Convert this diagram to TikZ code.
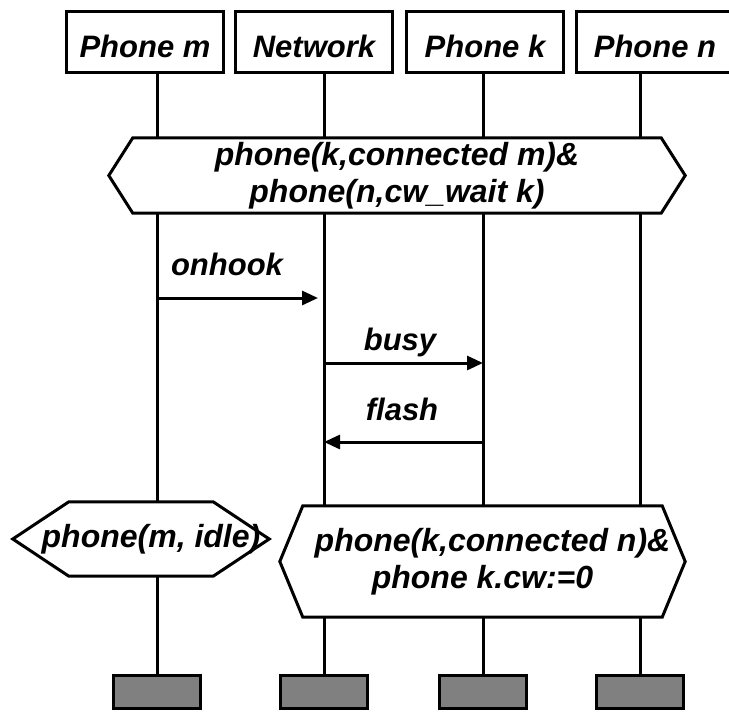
\documentclass[tikz,border=0pt]{standalone}
\usepackage{fontspec}
\setmainfont{Liberation Sans}
\usepackage{tikz}
\usetikzlibrary{arrows.meta}
\definecolor{EndColor}{RGB}{128,128,128}
\newcommand{\mscfont}{\fontsize{31}{37}\selectfont\bfseries\itshape}
\newcommand{\condfont}{\fontsize{32}{37}\selectfont\bfseries\itshape}
% hexagon round a condition node
\newcommand{\hexframe}[2]{%
  \draw[line width=3pt] (#1.west) -- ([xshift=#2]#1.north west) -- ([xshift=-#2]#1.north east)
    -- (#1.east) -- ([xshift=-#2]#1.south east) -- ([xshift=#2]#1.south west) -- cycle;}

\begin{document}
\begin{tikzpicture}[x=1pt,y=-1pt,font=\mscfont,every text node part/.style={align=center},
  instance/.style={draw, line width=3pt, minimum width=157pt, minimum height=61pt, inner sep=0pt,
    text height=30pt, text depth=0pt},
  condition/.style={inner sep=0pt, font=\condfont},
  endbox/.style={draw, line width=3.5pt, fill=EndColor, minimum width=87pt, minimum height=33pt},
  life/.style={line width=3pt},
  msg/.style={line width=3pt, -{Triangle[length=16pt, width=14pt]}}]

  \useasboundingbox (0,0) rectangle (729,713);
  \clip (0,0) rectangle (729,713);

  % instances
  \node[instance] (pm) at (145,42) {Phone m};
  \node[instance] (nw) at (314,42) {Network};
  \node[instance] (pk) at (485,42) {Phone k};
  \node[instance] (pn) at (655,42) {Phone n};

  \coordinate (lm) at (157,0);
  \coordinate (ln) at (324,0);
  \coordinate (lk) at (483,0);
  \coordinate (lp) at (640,0);

  % conditions
  \node[condition, minimum width=576pt, minimum height=75pt] (c1) at (397,175.5) {phone(k,connected m)\&\\phone(n,cw\_wait k)};
  \hexframe{c1}{24pt}
  \node[condition, minimum width=256pt, minimum height=74pt] (c2) at (141,539) {\hspace*{20pt}phone(m, idle)};
  \hexframe{c2}{56pt}
  \node[condition, minimum width=405pt, minimum height=111pt] (c3) at (482.5,561.5) {\hspace*{20pt}phone(k,connected n)\&\\phone k.cw:=0};
  \hexframe{c3}{23pt}

  % end of instances
  \node[endbox] (em) at (157,692) {};
  \node[endbox] (en) at (324,692) {};
  \node[endbox] (ek) at (483,692) {};
  \node[endbox] (ep) at (640,692) {};

  % lifelines
  \foreach \l/\i in {lm/pm,ln/nw,lk/pk,lp/pn}
    \draw[life] (\i.south -| \l) -- (c1.north -| \l);
  \draw[life] (c1.south -| lm) -- (c2.north -| lm);
  \foreach \l in {ln,lk,lp}
    \draw[life] (c1.south -| \l) -- (c3.north -| \l);
  \draw[life] (c2.south -| lm) -- (em);
  \foreach \l/\e in {ln/en,lk/ek,lp/ep}
    \draw[life] (c3.south -| \l) -- (\e);

  % messages
  \coordinate (a1) at (157,298);
  \coordinate (b1) at (318,298);
  \draw[msg] (a1) -- (b1);
  \node[anchor=base] (onhook) at (227,275) {onhook};

  \coordinate (a2) at (324,363);
  \coordinate (b2) at (483,363);
  \draw[msg] (a2) -- (b2);
  \node[anchor=base] (busy) at (400,350) {busy};

  \coordinate (a3) at (483,442);
  \coordinate (b3) at (324,442);
  \draw[msg] (a3) -- (b3);
  \node[anchor=base] (flash) at (402,420) {flash};

\end{tikzpicture}
\end{document}
